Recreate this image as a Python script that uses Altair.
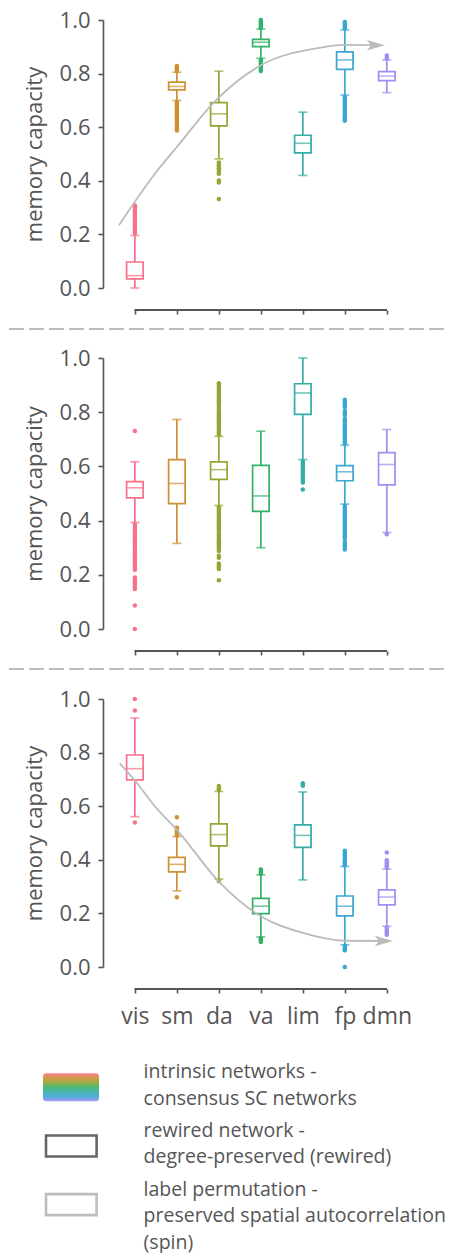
import altair as alt
import pandas as pd

cats = ["vis", "sm", "da", "va", "lim", "fp", "dmn"]
palette = ["#f77189", "#ce9032", "#97a431", "#32b166", "#36ada4", "#39a7d0", "#a48cf4"]
yticks = [0.0, 0.2, 0.4, 0.6, 0.8, 1.0]

# ---- panel 1: intrinsic networks (consensus SC) ----
p1_lo = [0.0, 0.70, 0.482, 0.857, 0.42, 0.72, 0.729]
p1_q1 = [0.034, 0.739, 0.605, 0.901, 0.504, 0.816, 0.774]
p1_med = [0.046, 0.752, 0.65, 0.917, 0.540, 0.851, 0.791]
p1_q3 = [0.097, 0.768, 0.692, 0.928, 0.570, 0.881, 0.807]
p1_hi = [0.196, 0.805, 0.809, 0.966, 0.656, 0.963, 0.851]
p1_out = [
    [0.203, 0.21, 0.217, 0.224, 0.231, 0.238, 0.245, 0.252, 0.259, 0.266, 0.273, 0.28, 0.287, 0.294, 0.301, 0.308],
    [0.81, 0.816, 0.822, 0.828, 0.693, 0.686, 0.679, 0.672, 0.665, 0.658, 0.651, 0.644, 0.637, 0.63, 0.623, 0.616,
     0.609, 0.602, 0.595, 0.588],
    [0.468, 0.461, 0.454, 0.447, 0.44, 0.433, 0.426, 0.401, 0.394, 0.332],
    [0.971, 0.977, 0.983, 0.989, 0.995, 1.0, 0.851, 0.845, 0.839, 0.833, 0.827, 0.821, 0.815, 0.81],
    [],
    [0.969, 0.975, 0.981, 0.987, 0.993, 0.714, 0.707, 0.7, 0.693, 0.686, 0.679, 0.672, 0.665, 0.658, 0.651, 0.644,
     0.637, 0.63, 0.624],
    [0.856, 0.862, 0.868],
]
p1_curve_x = [-0.38, 0.55, 1.01, 1.94, 3.01, 4.32, 5.01, 5.74]
p1_curve_y = [0.234, 0.441, 0.528, 0.702, 0.832, 0.894, 0.907, 0.906]

# ---- panel 2: rewired ----
p2_lo = [0.393, 0.316, 0.456, 0.300, 0.625, 0.461, 0.356]
p2_q1 = [0.484, 0.463, 0.552, 0.434, 0.792, 0.547, 0.532]
p2_med = [0.521, 0.537, 0.588, 0.491, 0.871, 0.580, 0.607]
p2_q3 = [0.544, 0.625, 0.617, 0.604, 0.905, 0.603, 0.651]
p2_hi = [0.617, 0.773, 0.711, 0.730, 1.0, 0.678, 0.736]
p2_out = [
    [0.731, 0.387, 0.38, 0.373, 0.366, 0.359, 0.352, 0.345, 0.338, 0.331, 0.324, 0.317, 0.31, 0.303, 0.296, 0.289,
     0.282, 0.275, 0.268, 0.261, 0.254, 0.247, 0.24, 0.233, 0.226, 0.219, 0.19, 0.183, 0.176, 0.169, 0.162, 0.155,
     0.148, 0.087, 0.0],
    [],
    [0.718, 0.725, 0.732, 0.739, 0.746, 0.753, 0.76, 0.767, 0.774, 0.781, 0.788, 0.795, 0.802, 0.809, 0.816, 0.823,
     0.83, 0.837, 0.844, 0.851, 0.858, 0.865, 0.872, 0.879, 0.886, 0.893, 0.9, 0.907,
     0.449, 0.442, 0.435, 0.428, 0.421, 0.414, 0.407, 0.4, 0.393, 0.386, 0.379, 0.372, 0.365, 0.358, 0.351, 0.344,
     0.337, 0.33, 0.323, 0.316, 0.309, 0.302, 0.295, 0.288, 0.27, 0.263, 0.242, 0.235, 0.228, 0.221, 0.18],
    [],
    [0.618, 0.611, 0.604, 0.597, 0.59, 0.583, 0.576, 0.569, 0.562, 0.555, 0.548, 0.541, 0.515],
    [0.685, 0.692, 0.699, 0.706, 0.713, 0.72, 0.727, 0.734, 0.741, 0.748, 0.755, 0.762, 0.769, 0.776, 0.79, 0.797,
     0.804, 0.818, 0.825, 0.832, 0.839, 0.846,
     0.454, 0.447, 0.44, 0.433, 0.426, 0.419, 0.412, 0.405, 0.398, 0.391, 0.384, 0.377, 0.37, 0.363, 0.356, 0.349,
     0.342, 0.335, 0.321, 0.314, 0.307, 0.3, 0.293],
    [0.35],
]

# ---- panel 3: spin ----
p3_lo = [0.561, 0.284, 0.328, 0.112, 0.325, 0.083, 0.152]
p3_q1 = [0.698, 0.355, 0.452, 0.199, 0.446, 0.191, 0.232]
p3_med = [0.740, 0.383, 0.494, 0.227, 0.491, 0.227, 0.261]
p3_q3 = [0.791, 0.409, 0.534, 0.256, 0.530, 0.265, 0.288]
p3_hi = [0.929, 0.487, 0.655, 0.344, 0.653, 0.375, 0.365]
p3_out = [
    [1.0, 0.957, 0.539],
    [0.559, 0.52, 0.513, 0.505, 0.498, 0.492, 0.26],
    [0.66, 0.667, 0.675, 0.32],
    [0.348, 0.353, 0.358, 0.364, 0.108, 0.103, 0.098, 0.093],
    [0.676, 0.68, 0.686],
    [0.38, 0.387, 0.395, 0.40, 0.407, 0.415, 0.42, 0.427, 0.434, 0.078, 0.072, 0.066, 0.062, 0.0],
    [0.37, 0.375, 0.38, 0.386, 0.392, 0.398, 0.427, 0.147, 0.14, 0.133, 0.126, 0.12],
]
p3_curve_x = [-0.36, 0.02, 0.48, 1.0, 2.0, 3.0, 4.0, 5.0, 5.93]
p3_curve_y = [0.760, 0.692, 0.599, 0.512, 0.319, 0.189, 0.127, 0.098, 0.097]

legend_labels = [
    "intrinsic networks -\nconsensus SC networks",
    "rewired network -\ndegree-preserved (rewired)",
    "label permutation -\npreserved spatial autocorrelation\n(spin)",
]

TXT = "#555555"
FONT = "Open Sans"
W = 314
XDOM = [-0.64, 6.6]
ARROW = "M1,0 L-1,-0.58 L-0.55,0 L-1,0.58 Z"

color_scale = alt.Scale(domain=cats, range=palette)


def panel(lo, q1, med, q3, hi, out, height, show_labels, curve=None, sep_y=None):
    box = pd.DataFrame({"i": list(range(len(cats))), "cat": cats, "lo": lo, "q1": q1,
                        "med": med, "q3": q3, "hi": hi})
    rows = []
    for k, vals in enumerate(out):
        for v in vals:
            rows.append({"i": k, "cat": cats[k], "v": v})
    odf = pd.DataFrame(rows, columns=["i", "cat", "v"])

    label_expr = "[" + ",".join("'%s'" % c for c in cats) + "][datum.value]"
    xaxis = alt.Axis(values=list(range(len(cats))), labelExpr=label_expr, labels=show_labels,
                     domain=False, offset=22, tickSize=4, title=None, grid=False,
                     labelPadding=12, labelFontSize=23)
    x = alt.X("i:Q", scale=alt.Scale(domain=XDOM, nice=False, zero=False), axis=xaxis)
    yscale = alt.Scale(domain=[0, 1], nice=False)
    yaxis = alt.Axis(values=yticks, format=".1f", title="memory capacity", grid=False,
                     tickSize=5, labelPadding=8, titlePadding=13)
    col = alt.Color("cat:N", scale=color_scale, legend=None)

    base = alt.Chart(box)
    whisk_lo = base.mark_rule(strokeWidth=1.7).encode(x=x, y=alt.Y("lo:Q", scale=yscale, axis=yaxis), y2="q1:Q", color=col)
    whisk_hi = base.mark_rule(strokeWidth=1.7).encode(x=x, y=alt.Y("q3:Q"), y2="hi:Q", color=col)
    boxes = base.mark_bar(orient="vertical", size=16.5, fillOpacity=0, strokeWidth=1.7).encode(
        x=x, y=alt.Y("q1:Q"), y2="q3:Q",
        stroke=alt.Stroke("cat:N", scale=color_scale, legend=None))
    meds = base.mark_tick(orient="horizontal", size=16.5, thickness=1.6).encode(x=x, y="med:Q", color=col)
    cap_lo = base.mark_tick(orient="horizontal", size=9, thickness=1.7).encode(x=x, y="lo:Q", color=col)
    cap_hi = base.mark_tick(orient="horizontal", size=9, thickness=1.7).encode(x=x, y="hi:Q", color=col)
    pts = alt.Chart(odf).mark_circle(size=20, opacity=1).encode(x=x, y="v:Q", color=col)
    xdomain = alt.Chart(box).mark_rule(color=TXT, strokeWidth=1.6).encode(
        x=alt.datum(0), x2=alt.datum(len(cats) - 1), y=alt.value(height + 22))

    layers = [whisk_lo, whisk_hi, boxes, meds, cap_lo, cap_hi, pts, xdomain]
    if curve is not None:
        cdf = pd.DataFrame({"cx": curve[0], "cy": curve[1]})
        line = alt.Chart(cdf).mark_line(interpolate="monotone", color="#bbbbbb", strokeWidth=1.8).encode(
            x="cx:Q", y="cy:Q")
        tip = pd.DataFrame({"cx": [curve[0][-1]], "cy": [curve[1][-1]]})
        head = alt.Chart(tip).mark_point(shape=ARROW, size=324, filled=True, color="#bbbbbb",
                                         opacity=1, strokeWidth=0).encode(x="cx:Q", y="cy:Q")
        layers += [line, head]
    if sep_y is not None:
        sep = alt.Chart(box).mark_rule(color="#bbbbbb", strokeWidth=1.5, strokeDash=[14, 6]).encode(
            x=alt.value(-93.7), x2=alt.value(345.3), y=alt.value(sep_y))
        layers.append(sep)
    return alt.layer(*layers).properties(width=W, height=height)


SP = 70
p1 = panel(p1_lo, p1_q1, p1_med, p1_q3, p1_hi, p1_out, 268, False, curve=(p1_curve_x, p1_curve_y))
p2 = panel(p2_lo, p2_q1, p2_med, p2_q3, p2_hi, p2_out, 271, False, sep_y=-28.7)
p3 = panel(p3_lo, p3_q1, p3_med, p3_q3, p3_hi, p3_out, 268, True, curve=(p3_curve_x, p3_curve_y), sep_y=-29.7)

# ---- legend ----
ldf = pd.DataFrame({"row": [0, 1, 2], "label": legend_labels})
ly = alt.Y("row:Q", scale=alt.Scale(domain=[-0.77, 2.5], reverse=True, nice=False, zero=False), axis=None)
grad = alt.LinearGradient(gradient="linear", x1=0, x2=0, y1=0, y2=1,
                          stops=[alt.GradientStop(color=c, offset=k / (len(palette) - 1))
                                 for k, c in enumerate(palette)])
lbase = alt.Chart(ldf)
rainbow = lbase.transform_filter("datum.row == 0").mark_bar(
    orient="horizontal", size=28, cornerRadius=3, fill=grad, opacity=0.9).encode(
    x=alt.value(-60), x2=alt.value(-4), y=ly)
dark = lbase.transform_filter("datum.row == 1").mark_bar(
    orient="horizontal", size=21, fillOpacity=0, stroke="#666666", strokeWidth=2.6).encode(
    x=alt.value(-57), x2=alt.value(-6.4), y=ly)
light = lbase.transform_filter("datum.row == 2").mark_bar(
    orient="horizontal", size=21, fillOpacity=0, stroke="#bdbdbd", strokeWidth=2.6).encode(
    x=alt.value(-57), x2=alt.value(-6.4), y=ly)
ltext = lbase.mark_text(align="left", baseline="alphabetic", dy=-9, fontSize=19.5, lineHeight=26.5,
                        lineBreak="\n", color=TXT, font=FONT).encode(
    x=alt.value(40.6), y=ly, text="label:N")
legend = alt.layer(rainbow, dark, light, ltext).properties(width=W, height=202)

chart = alt.vconcat(p1, p2, p3, legend, spacing=SP, bounds="flush").properties(
    padding={"left": 0, "top": 1, "right": 0, "bottom": 0}
).configure(font=FONT).configure_view(strokeWidth=0).configure_axis(
    labelFont=FONT, titleFont=FONT, labelFontSize=22, titleFontSize=22, titleFontWeight="normal",
    labelColor=TXT, titleColor=TXT, domainColor=TXT, tickColor=TXT, domainWidth=1.6, tickWidth=1.6
)

chart.save("out.html", embed_options={"renderer": "svg", "actions": False})
